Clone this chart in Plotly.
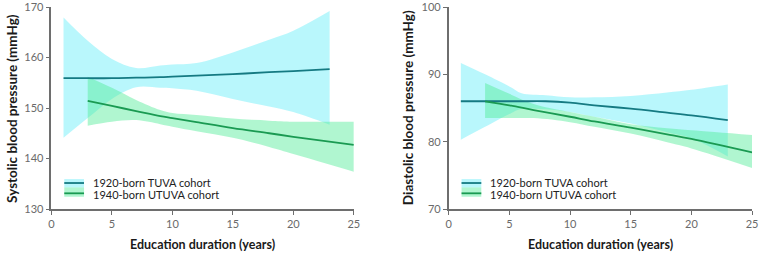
import plotly.graph_objects as go

# ---- data ----
sys_tuva_x = [1, 3, 5, 7, 9, 10, 12, 15, 18, 20, 23]
sys_tuva_mean = [155.9, 155.9, 155.9, 156.0, 156.1, 156.2, 156.4, 156.7, 157.1, 157.3, 157.7]
sys_tuva_upper = [167.9, 163.3, 159.7, 157.9, 158.4, 158.6, 158.9, 161.0, 163.5, 165.3, 169.2]
sys_tuva_lower = [144.1, 148.0, 151.8, 154.1, 154.0, 153.9, 153.4, 151.8, 150.3, 149.2, 146.7]

sys_utuva_x = [3, 5, 7, 9, 10, 12, 15, 18, 20, 25]
sys_utuva_mean = [151.4, 150.4, 149.4, 148.4, 148.0, 147.2, 146.0, 145.0, 144.3, 142.7]
sys_utuva_upper = [156.2, 154.0, 151.6, 149.6, 149.0, 148.6, 147.9, 147.5, 147.3, 147.3]
sys_utuva_lower = [146.5, 147.3, 147.6, 146.8, 146.3, 145.4, 144.1, 142.3, 140.9, 137.4]

dia_tuva_x = [1, 3, 5, 6, 8, 10, 12, 15, 18, 20, 23]
dia_tuva_mean = [86.0, 86.0, 86.0, 86.0, 86.0, 85.8, 85.4, 84.9, 84.3, 83.9, 83.2]
dia_tuva_upper = [91.7, 90.0, 88.2, 87.2, 86.9, 86.6, 86.6, 86.8, 87.3, 87.7, 88.5]
dia_tuva_lower = [80.3, 82.2, 84.1, 84.9, 84.8, 84.4, 83.7, 82.7, 81.4, 80.5, 77.8]

dia_utuva_x = [3, 5, 7, 10, 12, 15, 18, 20, 25]
dia_utuva_mean = [86.0, 85.4, 84.7, 83.7, 83.0, 82.1, 81.1, 80.4, 78.4]
dia_utuva_upper = [88.7, 87.1, 85.6, 84.4, 83.7, 82.6, 82.0, 81.7, 81.0]
dia_utuva_lower = [83.5, 83.5, 83.5, 82.9, 82.2, 81.2, 79.9, 79.0, 76.1]

series_names = ["1920-born TUVA cohort", "1940-born UTUVA cohort"]
x_ticks = [0, 5, 10, 15, 20, 25]
sys_ticks = [130, 140, 150, 160, 170]
dia_ticks = [70, 80, 90, 100]

# ---- styles ----
FONT = "Lato"
TUVA_FILL = "rgba(115,240,250,0.5)"
TUVA_LINE = "#157a82"
UTUVA_FILL = "rgba(80,235,150,0.45)"
UTUVA_LINE = "#1a9a52"
AXIS_COL = "#6e6e6e"

W, H = 764, 253
MT, MB = 3, 44
PH = H - MT - MB
L1, R1 = 49, 355
L2, R2 = 451, 758


def py(ypx):
    return (H - MB - ypx) / PH


fig = go.Figure()


def add_panel(xa, ya, tx, tm, tu, tl, ux, um, uu, ul):
    for x, u, l, fc in [(tx, tu, tl, TUVA_FILL), (ux, uu, ul, UTUVA_FILL)]:
        fig.add_trace(go.Scatter(x=x, y=l, mode="lines", line=dict(width=0, shape="spline"),
                                 showlegend=False, hoverinfo="skip", xaxis=xa, yaxis=ya))
        fig.add_trace(go.Scatter(x=x, y=u, mode="lines", line=dict(width=0, shape="spline"),
                                 fill="tonexty", fillcolor=fc, showlegend=False,
                                 hoverinfo="skip", xaxis=xa, yaxis=ya))
    for x, m, lc, name in [(tx, tm, TUVA_LINE, series_names[0]), (ux, um, UTUVA_LINE, series_names[1])]:
        fig.add_trace(go.Scatter(x=x, y=m, mode="lines", name=name,
                                 line=dict(color=lc, width=1.8, shape="spline"),
                                 showlegend=False, xaxis=xa, yaxis=ya))


add_panel("x", "y", sys_tuva_x, sys_tuva_mean, sys_tuva_upper, sys_tuva_lower,
          sys_utuva_x, sys_utuva_mean, sys_utuva_upper, sys_utuva_lower)
add_panel("x2", "y2", dia_tuva_x, dia_tuva_mean, dia_tuva_upper, dia_tuva_lower,
          dia_utuva_x, dia_utuva_mean, dia_utuva_upper, dia_utuva_lower)

axis_common = dict(showgrid=False, zeroline=False, showline=True, linecolor=AXIS_COL, linewidth=1.6,
                   ticks="outside", ticklen=4, tickwidth=1.2, tickcolor=AXIS_COL,
                   ticklabeloverflow="allow",
                   tickfont=dict(family=FONT, size=11, color="#6a6a6a"))

fig.update_layout(
    width=W, height=H,
    margin=dict(l=0, r=0, t=MT, b=MB),
    paper_bgcolor="white", plot_bgcolor="white",
    font=dict(family=FONT),
    showlegend=False,
    xaxis=dict(domain=[L1 / W, R1 / W], range=[0, 25], tickvals=x_ticks, anchor="y", **axis_common),
    yaxis=dict(domain=[0, 1], range=[130, 170], tickvals=sys_ticks, anchor="x", **axis_common),
    xaxis2=dict(domain=[L2 / W, R2 / W], range=[0, 25], tickvals=x_ticks, anchor="y2", **axis_common),
    yaxis2=dict(domain=[0, 1], range=[70, 100], tickvals=dia_ticks, anchor="x2", **axis_common),
)

# ---- legends (one per panel) ----
for left in (L1, L2):
    sx0, sx1 = (left + 13) / W, (left + 33) / W
    for (y0, y1, yl, yt), fc, lc, name in [((178.5, 187, 182.5, 181.5), TUVA_FILL, TUVA_LINE, series_names[0]),
                                          ((187, 196.5, 193, 194.5), UTUVA_FILL, UTUVA_LINE, series_names[1])]:
        fig.add_shape(type="rect", xref="paper", yref="paper", x0=sx0, x1=sx1, y0=py(y1), y1=py(y0),
                      fillcolor=fc, line=dict(width=0), layer="above")
        fig.add_shape(type="line", xref="paper", yref="paper", x0=sx0, x1=sx1, y0=py(yl), y1=py(yl),
                      line=dict(color=lc, width=1.8), layer="above")
        fig.add_annotation(xref="paper", yref="paper", x=(left + 41) / W, y=py(yt), text=name,
                           showarrow=False, xanchor="left", yanchor="middle", borderpad=0,
                           font=dict(family=FONT, size=11, color="#222222"))

xt_font = dict(family=FONT, size=12.5, color="#1a1a1a")
yt_font = dict(family=FONT, size=13.5, color="#1a1a1a")
ann = [
    dict(text="<b>Education duration (years)</b>", x=(L1 + R1) / 2 / W, y=py(245), font=xt_font),
    dict(text="<b>Education duration (years)</b>", x=(L2 + R2) / 2 / W, y=py(245), font=xt_font),
    dict(text="<b>Systolic blood pressure (mmHg)</b>", x=9 / W, y=py(106), textangle=-90, font=yt_font),
    dict(text="<b>Diastolic blood pressure (mmHg)</b>", x=410 / W, y=py(106), textangle=-90, font=yt_font),
]
for a in ann:
    fig.add_annotation(xref="paper", yref="paper", showarrow=False, xanchor="center", yanchor="middle", **a)

fig.write_html("out.html")
